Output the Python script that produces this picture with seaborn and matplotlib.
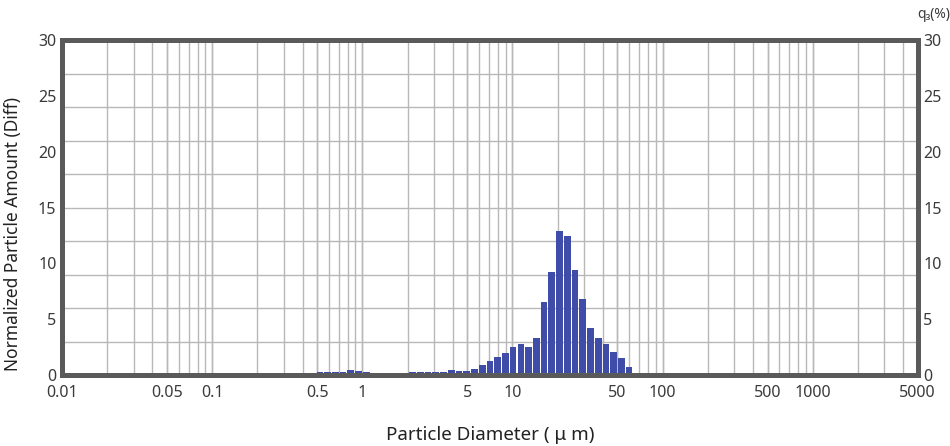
import numpy as np
import pandas as pd
import matplotlib
matplotlib.use("Agg")
import matplotlib.pyplot as plt
import matplotlib.ticker as mticker
import seaborn as sns

# ---- data ----
diameter_um = [0.521, 0.586, 0.660, 0.743, 0.837, 0.942, 1.061, 1.194, 1.345,
               2.161, 2.432, 2.738, 3.083, 3.471, 3.908, 4.400, 4.955, 5.578,
               6.281, 7.072, 7.962, 8.964, 10.09, 11.36, 12.79, 14.40, 16.22,
               18.26, 20.56, 23.15, 26.06, 29.34, 33.04, 37.20, 41.88, 47.15,
               53.09, 59.77, 67.30]
q3_diff = [0.25, 0.27, 0.27, 0.30, 0.45, 0.38, 0.27, 0.22, 0.15,
           0.24, 0.24, 0.30, 0.27, 0.27, 0.50, 0.36, 0.36, 0.57,
           0.90, 1.25, 1.60, 2.00, 2.50, 2.80, 2.50, 3.35, 6.55,
           9.25, 12.90, 12.50, 9.37, 6.80, 4.20, 3.35, 2.75, 2.10,
           1.55, 0.75, 0.20]
x_tick_values = [0.01, 0.05, 0.1, 0.5, 1, 5, 10, 50, 100, 500, 1000, 5000]
x_tick_labels = ["0.01", "0.05", "0.1", "0.5", "1", "5", "10", "50", "100",
                 "500", "1000", "5000"]
y_tick_values = [0, 5, 10, 15, 20, 25, 30]
log_bin_width = 0.0515

df = pd.DataFrame({"diameter": diameter_um, "amount": q3_diff})

sns.set_theme(style="white")
plt.rcParams["font.family"] = ["Noto Sans", "DejaVu Sans"]

fig = plt.figure(figsize=(9.5, 4.46), dpi=100)
ax = fig.add_axes([0.0653, 0.159, 0.9007, 0.751])

lo = np.log10(diameter_um[0]) - log_bin_width / 2
nb = int(round((np.log10(diameter_um[-1]) - np.log10(diameter_um[0])) / log_bin_width)) + 1
hi = lo + nb * log_bin_width

sns.histplot(data=df, x="diameter", weights="amount", log_scale=True,
             binwidth=log_bin_width, binrange=(lo, hi), shrink=0.86,
             color="#3f4ca8", alpha=1.0, linewidth=0, ax=ax)

ax.set_xlim(0.01, 5000)
ax.set_ylim(0, 30)

# x ticks / grid
ax.xaxis.set_major_locator(mticker.FixedLocator(x_tick_values))
ax.xaxis.set_major_formatter(mticker.FixedFormatter(x_tick_labels))
ax.xaxis.set_minor_locator(mticker.LogLocator(base=10, subs=np.arange(1, 10), numticks=100))
ax.xaxis.set_minor_formatter(mticker.NullFormatter())
ax.xaxis.remove_overlapping_locs = False

# y ticks / grid (labels every 5, grid every 3)
ax.yaxis.set_major_locator(mticker.FixedLocator(y_tick_values))
ax.yaxis.set_minor_locator(mticker.MultipleLocator(3))
ax.yaxis.remove_overlapping_locs = False

ax.grid(False)
ax.grid(True, axis="x", which="both", color="#b8b8b8", linewidth=1.0)
ax.grid(True, axis="y", which="minor", color="#b8b8b8", linewidth=1.0)
ax.set_axisbelow(True)

ax.tick_params(axis="both", which="both", length=0)
ax.tick_params(axis="x", which="major", labelsize=11.5, labelcolor="#3a3a3a", pad=7)
ax.tick_params(axis="y", which="major", labelsize=11.5, labelcolor="#3a3a3a",
               labelleft=True, labelright=True, pad=4)

for s in ax.spines.values():
    s.set_visible(True)
    s.set_color("#5a5a5a")
    s.set_linewidth(3.6)

ax.set_xlabel("Particle Diameter ( μ m)", fontsize=13.5, color="#222222", labelpad=18)
ax.set_ylabel("Normalized Particle Amount (Diff)", fontsize=12.5, color="#222222")
ax.yaxis.set_label_coords(-0.047, 0.42)

ax.text(1.0, 1.055, "q₃(%)", transform=ax.transAxes, fontsize=10, color="#3a3a3a",
        ha="left", va="bottom", family=["Noto Sans", "DejaVu Sans"])

fig.savefig("out.png", dpi=100, facecolor="white")
